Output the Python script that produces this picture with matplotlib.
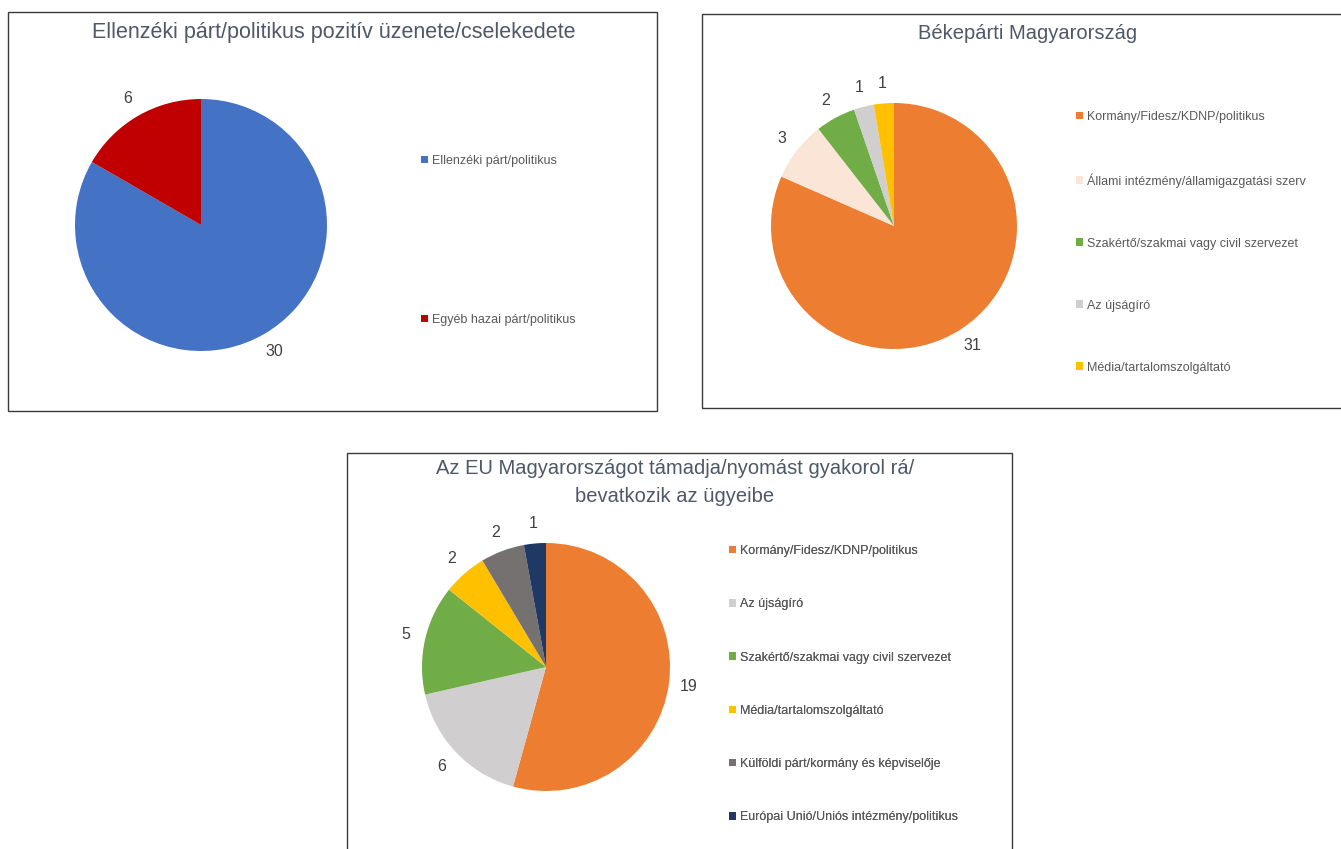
import matplotlib.pyplot as plt
from matplotlib.patches import Rectangle

# --- adatok ---
cim1 = "Ellenzéki párt/politikus pozitív üzenete/cselekedete"
kategoriak1 = ["Ellenzéki párt/politikus", "Egyéb hazai párt/politikus"]
ertekek1 = [30, 6]
szinek1 = ["#4472C4", "#C00000"]

cim2 = "Békepárti Magyarország"
kategoriak2 = ["Kormány/Fidesz/KDNP/politikus",
               "Állami intézmény/államigazgatási szerv",
               "Szakértő/szakmai vagy civil szervezet",
               "Az újságíró",
               "Média/tartalomszolgáltató"]
ertekek2 = [31, 3, 2, 1, 1]
szinek2 = ["#ED7D31", "#FBE5D6", "#70AD47", "#D0CECE", "#FFC000"]

cim3 = "Az EU Magyarországot támadja/nyomást gyakorol rá/\nbevatkozik az ügyeibe"
kategoriak3 = ["Kormány/Fidesz/KDNP/politikus",
               "Az újságíró",
               "Szakértő/szakmai vagy civil szervezet",
               "Média/tartalomszolgáltató",
               "Külföldi párt/kormány és képviselője",
               "Európai Unió/Uniós intézmény/politikus"]
ertekek3 = [19, 6, 5, 2, 2, 1]
szinek3 = ["#ED7D31", "#D0CECE", "#70AD47", "#FFC000", "#767171", "#203864"]

plt.rcParams['font.family'] = ['Liberation Sans', 'DejaVu Sans']

W, H = 1341, 849
fig = plt.figure(figsize=(W / 100, H / 100), dpi=100)
ax = fig.add_axes([0, 0, 1, 1])


def keret(x0, y0, x1, y1):
    ax.add_patch(Rectangle((x0, H - y1), x1 - x0, y1 - y0, fill=False,
                           edgecolor="#3a3a3a", linewidth=1.0, zorder=5))


def torta(ertekek, szinek, kategoriak, cim, kozep, r, cim_hely, cim_meret,
          leg_hely, leg_koz):
    wedges, texts = ax.pie(ertekek, colors=szinek, labels=[str(v) for v in ertekek],
                           startangle=90, counterclock=False,
                           center=(kozep[0], H - kozep[1]), radius=r,
                           labeldistance=1.16,
                           wedgeprops=dict(linewidth=0),
                           textprops=dict(fontsize=11.5, color="#404040",
                                          fontweight="medium"))
    for t in texts:
        t.set_horizontalalignment("center")
        t.set_verticalalignment("center")
    ax.text(cim_hely[0], H - cim_hely[1], cim, ha="center", va="center",
            fontsize=cim_meret, color="#4d5869", linespacing=1.6)
    leg = ax.legend(wedges, kategoriak, loc="upper left",
                    bbox_to_anchor=(leg_hely[0], H - leg_hely[1]),
                    bbox_transform=ax.transData, frameon=False,
                    fontsize=9, labelspacing=leg_koz, borderpad=0,
                    borderaxespad=0, handlelength=0.55, handleheight=0.55,
                    handletextpad=0.35)
    for t in leg.get_texts():
        t.set_color("#595959")
    ax.add_artist(leg)


torta(ertekek1, szinek1, kategoriak1, cim1, (201, 225), 126, (334, 32), 15.5,
      (421, 155), 11.75)
torta(ertekek2, szinek2, kategoriak2, cim2, (894, 226), 123, (1028, 33), 14.5,
      (1076, 111), 4.0)
torta(ertekek3, szinek3, kategoriak3, cim3, (546, 667), 124, (675, 482), 14.5,
      (729, 545), 3.3)

keret(8, 12, 657, 411)
keret(702, 14, 1345, 408)
keret(347, 453, 1012, 855)

ax.set_xlim(0, W)
ax.set_ylim(0, H)
ax.set_aspect("equal")
ax.axis("off")

fig.savefig("out.png", dpi=100)
